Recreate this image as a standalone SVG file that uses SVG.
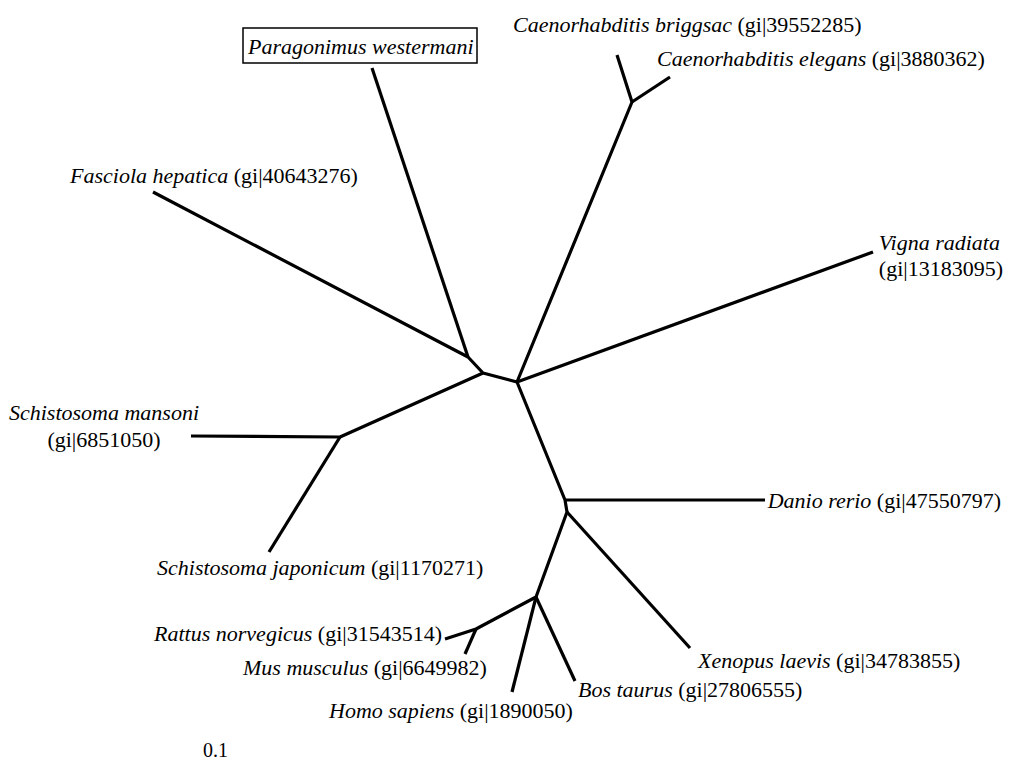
<svg xmlns="http://www.w3.org/2000/svg" width="1009" height="774" viewBox="0 0 1009 774">
<style>
text{font-family:"Liberation Serif","Times New Roman",serif;font-size:22px;fill:#000}
.sp{font-style:italic}
.br{fill:none;stroke:#000;stroke-width:3.2;stroke-linecap:butt;stroke-linejoin:round}
.box{fill:#fff;stroke:#000;stroke-width:1.5}
</style>
<rect width="1009" height="774" fill="#fff"/>
<g id="connectors" class="br">
<polyline points="153,192 468,357 483,373 517,382"/>
<line x1="372" y1="68" x2="468" y2="357"/>
<polyline points="191,436 340,437 483,373"/>
<line x1="269" y1="552" x2="340" y2="437"/>
<polyline points="517,382 632,102 617,55"/>
<line x1="632" y1="102" x2="670" y2="77"/>
<line x1="517" y1="382" x2="873" y2="252"/>
<polyline points="517,382 565,500 567,512 536,597 476,629 445,639"/>
<line x1="565" y1="500" x2="765" y2="500"/>
<line x1="567" y1="512" x2="690" y2="648"/>
<line x1="476" y1="629" x2="465" y2="654"/>
<line x1="536" y1="597" x2="512" y2="692"/>
<line x1="536" y1="597" x2="575" y2="681"/>
</g>
<g id="paragonimus"><rect class="box" x="243" y="28" width="234" height="35"/><text x="248" y="54" class="sp">Paragonimus westermani</text></g>
<g id="briggsae"><text x="513" y="32"><tspan class="sp">Caenorhabditis briggsac</tspan> (gi|39552285)</text></g>
<g id="elegans"><text x="657" y="66"><tspan class="sp">Caenorhabditis elegans</tspan> (gi|3880362)</text></g>
<g id="fasciola"><text x="70" y="183"><tspan class="sp">Fasciola hepatica</tspan> (gi|40643276)</text></g>
<g id="vigna"><text x="1000" y="250" text-anchor="end" class="sp">Vigna radiata</text><text x="1003" y="276" text-anchor="end">(gi|13183095)</text></g>
<g id="mansoni"><text x="104" y="420" text-anchor="middle" class="sp">Schistosoma mansoni</text><text x="104" y="447" text-anchor="middle">(gi|6851050)</text></g>
<g id="danio"><text x="1001" y="508" text-anchor="end"><tspan class="sp">Danio rerio</tspan> (gi|47550797)</text></g>
<g id="japonicum"><text x="157" y="575"><tspan class="sp">Schistosoma japonicum</tspan> (gi|1170271)</text></g>
<g id="rattus"><text x="442" y="641" text-anchor="end"><tspan class="sp">Rattus norvegicus</tspan> (gi|31543514)</text></g>
<g id="mus"><text x="243" y="675"><tspan class="sp">Mus musculus</tspan> (gi|6649982)</text></g>
<g id="xenopus"><text x="698" y="668"><tspan class="sp">Xenopus laevis</tspan> (gi|34783855)</text></g>
<g id="bos"><text x="578" y="697"><tspan class="sp">Bos taurus</tspan> (gi|27806555)</text></g>
<g id="homo"><text x="329" y="718"><tspan class="sp">Homo sapiens</tspan> (gi|1890050)</text></g>
<g id="scale"><text x="203" y="757" style="font-size:20px">0.1</text></g>
</svg>
